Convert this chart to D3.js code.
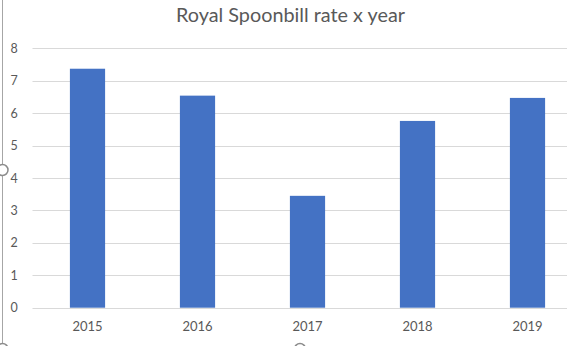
<!DOCTYPE html>
<html><head><meta charset="utf-8">
<script src="https://cdn.jsdelivr.net/npm/d3@7"></script>
<style>body{margin:0;background:#fff}svg{display:block}</style>
</head><body>
<script>
const years = ["2015","2016","2017","2018","2019"];
const rates = [7.37, 6.54, 3.45, 5.76, 6.47];
const yTicks = [0,1,2,3,4,5,6,7,8];
const title = "Royal Spoonbill rate x year";

const W = 567, H = 346;
const svg = d3.select("body").append("svg").attr("width", W).attr("height", H);
const plotLeft = 32.5, plotRight = 582.5, plotTop = 48.3, plotBottom = 307.7;

const x = d3.scaleBand().domain(years).range([plotLeft, plotRight]).paddingInner(0.68).paddingOuter(0.34);
const y = d3.scaleLinear().domain([0, 8]).range([plotBottom, plotTop]);

svg.append("g").selectAll("line").data(yTicks).join("line")
  .attr("x1", plotLeft).attr("x2", plotRight)
  .attr("y1", d => Math.round(y(d)) + 0.5).attr("y2", d => Math.round(y(d)) + 0.5)
  .attr("stroke", "#d9d9d9").attr("stroke-width", 1);

svg.append("g").selectAll("rect").data(years).join("rect")
  .attr("x", d => x(d)).attr("width", x.bandwidth())
  .attr("y", (d, i) => y(rates[i])).attr("height", (d, i) => y(0) - y(rates[i]))
  .attr("fill", "#4472c4");

const font = "Lato, 'Open Sans', sans-serif";
svg.append("g").selectAll("text").data(yTicks).join("text")
  .attr("x", 14).attr("y", d => y(d) + 4.5)
  .attr("text-anchor", "middle").attr("fill", "#595959")
  .style("font", "12.5px " + font).text(d => d);

svg.append("g").selectAll("text").data(years).join("text")
  .attr("x", d => x(d) + x.bandwidth() / 2).attr("y", 331)
  .attr("text-anchor", "middle").attr("fill", "#595959")
  .style("font", "13px " + font).text(d => d);

svg.append("text").attr("x", 290.5).attr("y", 22)
  .attr("text-anchor", "middle").attr("fill", "#595959")
  .attr("textLength", 229).attr("lengthAdjust", "spacingAndGlyphs")
  .style("font", "19.5px " + font).text(title);

// chart frame and selection handles
svg.append("line").attr("x1", 2.5).attr("x2", 2.5).attr("y1", 0).attr("y2", H)
  .attr("stroke", "#a6a6a6");
[[2.5, 170], [300, 349], [2.5, 349]].forEach(([cx, cy]) => {
  svg.append("circle").attr("cx", cx).attr("cy", cy).attr("r", 5.5)
    .attr("fill", "#fff").attr("stroke", "#8c8c8c").attr("stroke-width", 1.5);
});
</script>
</body></html>
